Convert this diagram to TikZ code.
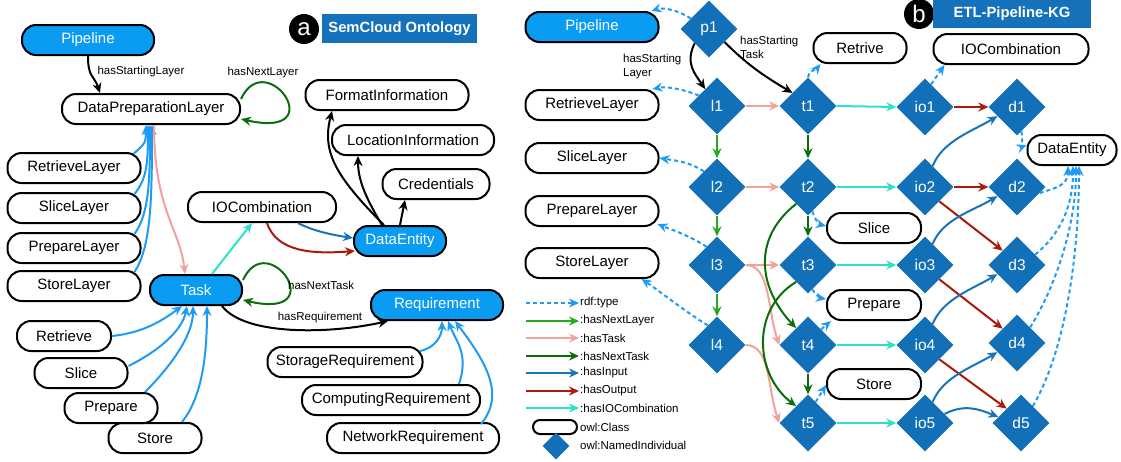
\documentclass[tikz,border=0pt]{standalone}
\usepackage{fontspec}
\setmainfont{Liberation Sans}
\usetikzlibrary{arrows.meta,shapes.geometric}
\definecolor{clsblue}{RGB}{10,155,242}
\definecolor{indblue}{RGB}{17,112,183}
\definecolor{titleblue}{RGB}{20,113,186}
\definecolor{typblue}{RGB}{30,155,245}
\definecolor{nlgreen}{RGB}{40,170,30}
\definecolor{tskpink}{RGB}{244,160,155}
\definecolor{ntgreen}{RGB}{10,110,10}
\definecolor{inpblue}{RGB}{25,115,185}
\definecolor{outred}{RGB}{170,25,10}
\definecolor{ioccyan}{RGB}{45,225,200}
\begin{document}
\begin{tikzpicture}[x=1pt,y=-1pt,
  cls/.style={draw=black, line width=2pt, rounded corners=14pt, minimum height=30pt, inner sep=0pt, font=\fontsize{15}{18}\selectfont},
  clsb/.style={cls, fill=clsblue, text=white},
  ind/.style={diamond, aspect=1, fill=indblue, text=white, minimum width=57pt, minimum height=57pt, inner sep=0pt, font=\fontsize{15.5}{18}\selectfont},
  lbl/.style={font=\fontsize{11.5}{14}\selectfont, inner sep=0pt},
  arr/.style={line width=2pt, -{Stealth[length=10pt,width=9pt]}},
  blk/.style={arr, color=black},
  sub/.style={arr, color=typblue},
  typ/.style={arr, color=typblue, dash pattern=on 4pt off 3pt},
  nlr/.style={arr, color=nlgreen},
  tsk/.style={arr, color=tskpink},
  ntk/.style={arr, color=ntgreen},
  inp/.style={arr, color=inpblue},
  outp/.style={arr, color=outred},
  iocr/.style={arr, color=ioccyan},
  badge/.style={circle, fill=black, text=white, minimum size=30pt, inner sep=0pt, font=\fontsize{24}{24}\selectfont},
  ttl/.style={fill=titleblue, text=white, inner sep=0pt, font=\bfseries\fontsize{14.8}{17}\selectfont}
]
\useasboundingbox (0,0) rectangle (1121,461);

% ---------------- (a) SemCloud Ontology ----------------
\node[badge] (ca) at (304,29) {a};
\node[ttl, minimum width=155pt, minimum height=29pt] (ta) at (399.5,28.5) {SemCloud Ontology};

\node[clsb, minimum width=132pt] (pipeL) at (88,40) {Pipeline};
\node[cls, minimum width=178pt] (dpl) at (151,109) {DataPreparationLayer};
\node[cls, minimum width=133pt] (rl) at (74,168) {RetrieveLayer};
\node[cls, minimum width=133pt] (sl) at (74,208) {SliceLayer};
\node[cls, minimum width=133pt] (pl) at (74,248) {PrepareLayer};
\node[cls, minimum width=133pt] (stl) at (74,286) {StoreLayer};
\node[clsb, minimum width=92pt] (task) at (196,290) {Task};
\node[cls, minimum width=148pt] (ioc) at (262,207) {IOCombination};
\node[clsb, minimum width=92pt] (deL) at (400,241) {DataEntity};
\node[cls, minimum width=107pt] (cred) at (436,184) {Credentials};
\node[cls, minimum width=162pt] (loc) at (413,140) {LocationInformation};
\node[cls, minimum width=163pt] (fmt) at (387,95) {FormatInformation};
\node[clsb, minimum width=132pt] (req) at (437,305) {Requirement};
\node[cls, minimum width=155pt] (sreq) at (345,362) {StorageRequirement};
\node[cls, minimum width=178pt] (creq) at (391,400) {ComputingRequirement};
\node[cls, minimum width=172pt] (nreq) at (413,438) {NetworkRequirement};
\node[cls, minimum width=94pt] (retr) at (64,336) {Retrieve};
\node[cls, minimum width=93pt] (slc) at (81,373) {Slice};
\node[cls, minimum width=93pt] (prep) at (111,408) {Prepare};
\node[cls, minimum width=93pt] (stor) at (155,438) {Store};

\draw[blk] (pipeL.south) .. controls +(0,22) and +(-6,-18) .. ([xshift=-51pt]dpl.north);
\node[lbl] (lhsl) at (141,72) {hasStartingLayer};
\draw[ntk] ([yshift=10pt]dpl.east) .. controls +(25,-54) and +(92,21) .. ([yshift=-10pt]dpl.east);
\node[lbl] (lhnl) at (263,73) {hasNextLayer};

\draw[sub] ([xshift=-8pt,yshift=-2pt]rl.north east) .. controls +(10,-10) and +(0,20) .. ([xshift=-5pt]dpl.south);
\draw[sub] ([xshift=-7pt,yshift=-2pt]sl.north east) .. controls +(12,-15) and +(0,40) .. ([xshift=-3pt]dpl.south);
\draw[sub] ([xshift=-7pt,yshift=-2pt]pl.north east) .. controls +(14,-20) and +(0,60) .. ([xshift=-1pt]dpl.south);
\draw[sub] ([xshift=-7pt,yshift=-2pt]stl.north east) .. controls +(16,-25) and +(0,80) .. ([xshift=1pt]dpl.south);

\draw[tsk] ([xshift=3pt]dpl.south) .. controls +(0,85) and +(-5,-45) .. ([xshift=-11pt]task.north);
\draw[iocr] ([xshift=16pt]task.north) -- ([xshift=-10pt]ioc.south);
\draw[inp] ([xshift=36pt]ioc.south) .. controls +(15,8) and +(-20,-3) .. ([yshift=3pt]deL.west);
\draw[outp] ([xshift=5pt]ioc.south) .. controls +(10,30) and +(-40,3) .. ([xshift=2pt,yshift=-10pt]deL.west);
\draw[blk] (deL.north) -- ([xshift=-31pt]cred.south);
\draw[blk] ([xshift=-18pt]deL.north) .. controls +(-15,-25) and +(0,25) .. ([xshift=-55pt]loc.south);
\draw[blk] ([xshift=-16pt]deL.north) .. controls +(-50,-50) and +(-10,40) .. ([xshift=-55pt]fmt.south);

\draw[ntk] ([yshift=10pt]task.east) .. controls +(25,-54) and +(90,21) .. ([yshift=-10pt]task.east);
\node[lbl, anchor=west] (lhnt) at (288,285) {hasNextTask};

\draw[blk] ([xshift=26pt]task.south) .. controls +(23,30) and +(-58,13) .. ([xshift=-49pt]req.south);
\node[lbl] (lhr) at (320,318) {hasRequirement};

\draw[sub] ([xshift=75pt,yshift=-5pt]sreq.north) .. controls +(15,-3) and +(0,15) .. ([xshift=5pt]req.south);
\draw[sub] ([xshift=68pt]creq.north) .. controls +(10,-30) and +(8,20) .. ([xshift=11pt]req.south);
\draw[sub] ([xshift=68pt,yshift=-2pt]nreq.north) .. controls +(25,-30) and +(30,40) .. ([xshift=18pt]req.south);

\draw[sub] (retr.east) .. controls +(30,-3) and +(-20,15) .. ([xshift=-14pt]task.south);
\draw[sub] ([yshift=7pt]slc.east) .. controls +(30,-15) and +(-5,25) .. ([xshift=-9pt]task.south);
\draw[sub] ([xshift=34pt]prep.north) .. controls +(25,-25) and +(0,30) .. ([xshift=-3pt]task.south);
\draw[sub] ([xshift=27pt]stor.north) .. controls +(20,-25) and +(0,50) .. ([xshift=11pt]task.south);

% ---------------- (b) ETL-Pipeline-KG ----------------
\node[badge] (cb) at (919,14) {b};
\node[ttl, minimum width=158pt, minimum height=28pt] (tb) at (1012,14) {ETL-Pipeline-KG};

\node[clsb, minimum width=133pt] (pipeR) at (592,27) {Pipeline};
\node[cls, minimum width=133pt] (rlR) at (592,105) {RetrieveLayer};
\node[cls, minimum width=133pt] (slR) at (592,158) {SliceLayer};
\node[cls, minimum width=133pt] (plR) at (592,211) {PrepareLayer};
\node[cls, minimum width=133pt] (stlR) at (592,263) {StoreLayer};
\node[cls, minimum width=93pt] (retrive) at (860,48) {Retrive};
\node[cls, minimum width=155pt] (iocR) at (1011,49) {IOCombination};
\node[cls, minimum width=89pt] (deR) at (1072,150) {DataEntity};
\node[cls, minimum width=94pt] (slcR) at (874,228) {Slice};
\node[cls, minimum width=94pt] (prepR) at (874,305) {Prepare};
\node[cls, minimum width=94pt] (storR) at (874,384) {Store};

\node[ind] (p1) at (709,29) {p1};
\node[ind] (l1) at (717,106) {l1};
\node[ind] (t1) at (808,106) {t1};
\node[ind] (io1) at (925,107) {io1};
\node[ind] (d1) at (1017,107) {d1};
\node[ind] (l2) at (717,187) {l2};
\node[ind] (t2) at (808,187) {t2};
\node[ind] (io2) at (925,187) {io2};
\node[ind] (d2) at (1017,187) {d2};
\node[ind] (l3) at (717,265) {l3};
\node[ind] (t3) at (808,265) {t3};
\node[ind] (io3) at (925,265) {io3};
\node[ind] (d3) at (1017,265) {d3};
\node[ind] (l4) at (717,345) {l4};
\node[ind] (t4) at (808,345) {t4};
\node[ind] (io4) at (925,345) {io4};
\node[ind] (d4) at (1017,343) {d4};
\node[ind] (t5) at (808,423) {t5};
\node[ind] (io5) at (925,423) {io5};
\node[ind] (d5) at (1021,423) {d5};

% hasStarting
\draw[blk] (p1.225) .. controls +(-10,20) and +(-10,-15) .. (l1.125);
\draw[blk] (p1.-40) .. controls +(25,25) and +(-25,-15) .. (t1.140);
\node[lbl, anchor=north west, align=left] (lhsl2) at (623,54) {hasStarting\\Layer};
\node[lbl, anchor=north west, align=left] (lhst2) at (740,36) {hasStarting\\Task};

% rdf:type
\draw[typ] (p1.150) .. controls +(-12,-8) and +(12,-4) .. ([xshift=-8pt]pipeR.north east);
\draw[typ] (l1.150) .. controls +(-15,-6) and +(15,-3) .. ([xshift=-7pt]rlR.north east);
\draw[typ] (l2.130) .. controls +(-15,-10) and +(12,2) .. (slR.east);
\draw[typ] (l3.120) .. controls +(-18,-12) and +(12,5) .. ([xshift=-2pt,yshift=3pt]plR.south east);
\draw[typ] (l4.115) .. controls +(-20,-12) and +(15,10) .. ([xshift=-18pt]stlR.south east);
\draw[typ] (t1.north) .. controls +(0,-6) and +(-4,5) .. ([xshift=8pt]retrive.south west);
\draw[typ] (t2.-80) .. controls +(3,8) and +(-8,-2) .. ([yshift=2pt]slcR.west);
\draw[typ] (t3.-80) .. controls +(3,5) and +(-6,-1) .. ([yshift=6pt]prepR.west);
\draw[typ] (t4.50) -- ([xshift=5pt]prepR.south west);
\draw[typ] (t5.70) -- ([yshift=-1pt]storR.west);
\draw[typ] (io1.75) -- ([xshift=12pt]iocR.south west);
\draw[typ] (d1.-80) .. controls +(2,6) and +(-5,2) .. ([yshift=5pt]deR.west);
\draw[typ] (d2.-15) .. controls +(15,-5) and +(0,20) .. ([xshift=-4pt]deR.south);
\draw[typ] (d3.30) .. controls +(25,-20) and +(0,40) .. ([xshift=1pt]deR.south);
\draw[typ] (d4.50) .. controls +(25,-40) and +(0,60) .. ([xshift=4pt]deR.south);
\draw[typ] (d5.55) .. controls +(35,-60) and +(0,80) .. ([xshift=7pt]deR.south);

% hasNextLayer
\draw[nlr] (l1.south) -- (l2.north);
\draw[nlr] (l2.south) -- (l3.north);
\draw[nlr] (l3.south) -- (l4.north);

% hasTask
\draw[tsk] (l1.east) -- (t1.west);
\draw[tsk] (l2.east) -- (t2.west);
\draw[tsk] (l3.east) -- (t3.west);
\draw[tsk] (l3.east) .. controls +(25,0) and +(-12,-35) .. (t4.west);
\draw[tsk] (l4.east) .. controls +(25,0) and +(-12,-35) .. (t5.west);

% hasNextTask
\draw[ntk] (t1.south) -- (t2.north);
\draw[ntk] (t2.south) -- (t3.north);
\draw[ntk] (t4.south) -- (t5.north);
\draw[ntk] (t2.235) .. controls +(-46,36) and +(-36,-38) .. (t4.125);
\draw[ntk] (t3.235) .. controls +(-46,28) and +(-41,-31) .. (t5.125);

% hasIOCombination
\draw[iocr] (t1.east) -- (io1.west);
\draw[iocr] (t2.east) -- (io2.west);
\draw[iocr] (t3.east) -- (io3.west);
\draw[iocr] (t4.east) -- (io4.west);
\draw[iocr] (t5.east) -- (io5.west);

% hasOutput
\draw[outp] (io1.east) -- (d1.west);
\draw[outp] (io2.east) -- (d2.west);
\draw[outp] (io2.-45) -- (d3.135);
\draw[outp] (io3.-45) -- (d4.135);
\draw[outp] (io4.-45) -- (d5.135);

% hasInput
\draw[inp] (io2.70) .. controls +(10,-25) and +(-25,15) .. (d1.205);
\draw[inp] (io3.70) .. controls +(10,-25) and +(-25,15) .. (d2.205);
\draw[inp] (io4.70) .. controls +(10,-25) and +(-25,15) .. (d3.205);
\draw[inp] (io5.70) .. controls +(10,-25) and +(-25,15) .. (d4.205);
\draw[inp] (io5.25) .. controls +(20,-10) and +(-20,-8) .. (d5.165);

% legend
\coordinate (g1a) at (526,303); \coordinate (g1b) at (579,303);
\coordinate (g2a) at (526,321); \coordinate (g2b) at (579,321);
\coordinate (g3a) at (526,338); \coordinate (g3b) at (579,338);
\coordinate (g4a) at (526,356); \coordinate (g4b) at (579,356);
\coordinate (g5a) at (526,373); \coordinate (g5b) at (579,373);
\coordinate (g6a) at (526,391); \coordinate (g6b) at (579,391);
\coordinate (g7a) at (526,408); \coordinate (g7b) at (579,408);
\draw[typ] (g1a) -- (g1b);
\draw[nlr] (g2a) -- (g2b);
\draw[tsk] (g3a) -- (g3b);
\draw[ntk] (g4a) -- (g4b);
\draw[inp] (g5a) -- (g5b);
\draw[outp] (g6a) -- (g6b);
\draw[iocr] (g7a) -- (g7b);
\node[lbl, anchor=west] (gl1) at (580,303) {rdf:type};
\node[lbl, anchor=west] (gl2) at (580,321) {:hasNextLayer};
\node[lbl, anchor=west] (gl3) at (580,338) {:hasTask};
\node[lbl, anchor=west] (gl4) at (580,356) {:hasNextTask};
\node[lbl, anchor=west] (gl5) at (580,373) {:hasInput};
\node[lbl, anchor=west] (gl6) at (580,391) {:hasOutput};
\node[lbl, anchor=west] (gl7) at (580,408) {:hasIOCombination};
\node[draw=black, line width=2pt, rounded corners=7pt, minimum width=44pt, minimum height=14pt, inner sep=0pt] (gcls) at (555,427) {};
\node[lbl, anchor=west] (gl8) at (580,427) {owl:Class};
\node[ind, minimum width=27pt, minimum height=27pt] (gind) at (556,446) {};
\node[lbl, anchor=west] (gl9) at (580,445) {owl:NamedIndividual};
\end{tikzpicture}
\end{document}
